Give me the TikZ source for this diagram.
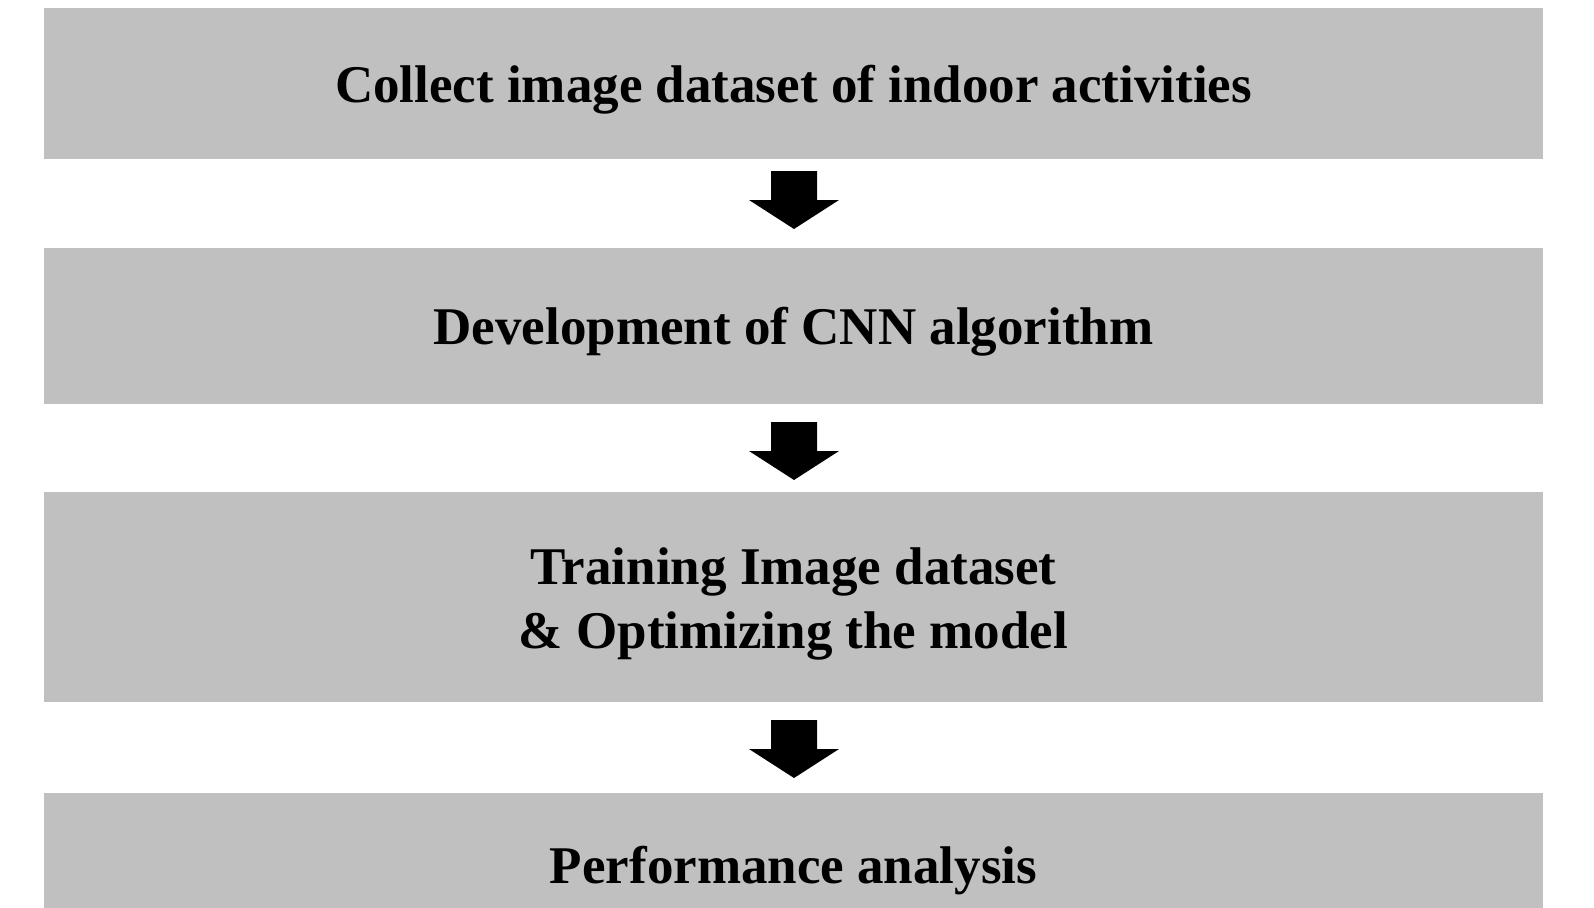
\documentclass[tikz,border=0pt]{standalone}
\usepackage{fontspec}
\setmainfont{Liberation Serif}
\usetikzlibrary{calc}
\definecolor{stepgray}{RGB}{192,192,192}
\tikzset{
  stepbox/.style={fill=stepgray, draw=none, inner sep=0pt,
    minimum width=1499pt},
  steptext/.style={inner sep=0pt, align=center,
    font=\fontsize{53}{64}\selectfont\bfseries},
  blockdown/.pic={\fill[black] (-23,0) -- (23,0) -- (23,29) -- (45,29)
    -- (0,58) -- (-45,29) -- (-23,29) -- cycle;}
}
\begin{document}
\begin{tikzpicture}[x=1pt,y=-1pt]
\useasboundingbox (0,0) rectangle (1594,907);
\clip (0,0) rectangle (1594,907);
% process boxes
\node[stepbox, minimum height=151pt] (b1) at (793.5,83.5) {};
\node[stepbox, minimum height=156pt] (b2) at (793.5,326) {};
\node[stepbox, minimum height=210pt] (b3) at (793.5,597) {};
\node[stepbox, minimum height=146pt] (b4) at (793.5,866) {};
% box captions
\node[steptext] (t1) at ($(b1.center)+(0,6)$) {Collect image dataset of indoor activities};
\node[steptext] (t2) at ($(b2.center)+(0,6)$) {Development of CNN algorithm};
\node[steptext] (t3) at ($(b3.center)+(0,7)$) {Training Image dataset\\\& Optimizing the model};
\node[steptext] (t4) at ($(b4.center)+(0,5)$) {Performance analysis};
% block arrows between steps
\pic at (794,171) {blockdown};
\pic at (794,422) {blockdown};
\pic at (794,720) {blockdown};
\end{tikzpicture}
\end{document}
